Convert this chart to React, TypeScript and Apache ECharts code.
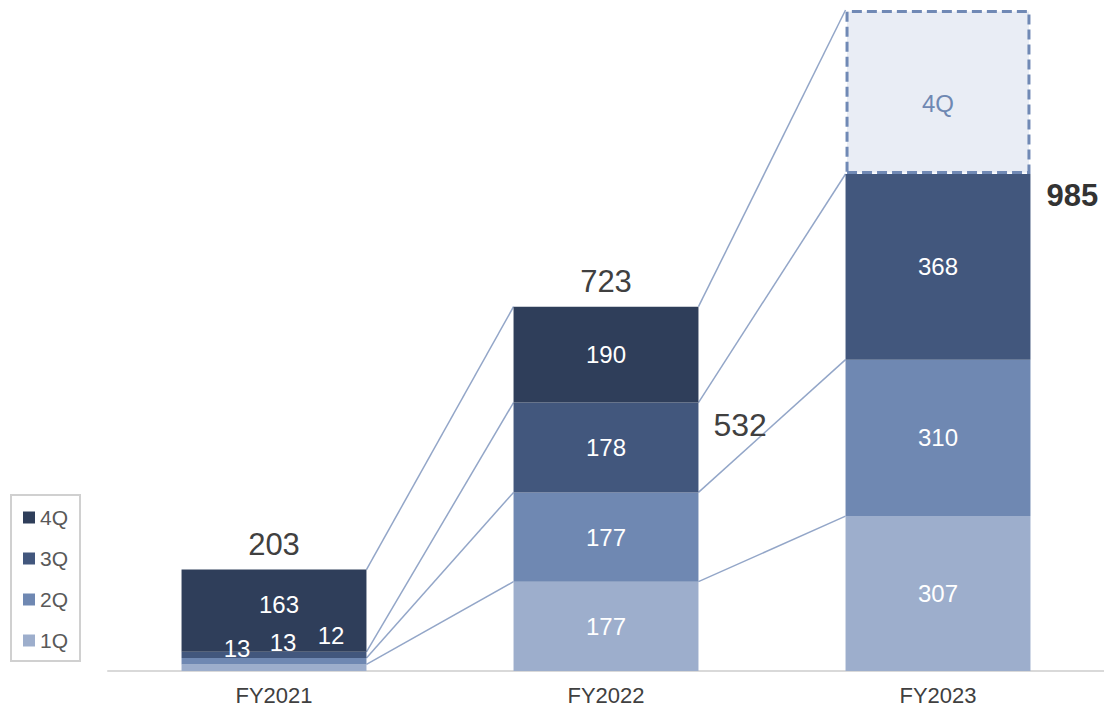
import React, { useEffect, useRef } from "react";
import * as echarts from "echarts";

const categories = ["FY2021", "FY2022", "FY2023"];
const q1 = [13, 177, 307];
const q2 = [13, 177, 310];
const q3 = [12, 178, 368];
const q4: (number | null)[] = [163, 190, null];
const q4Placeholder = 325; // FY2023 4Q not yet reported (dashed box)
const yearTotals: (number | null)[] = [203, 723, null];
const nineMonthTotals: (number | null)[] = [null, 532, 985];
const legendNames = ["4Q", "3Q", "2Q", "1Q"];

const COLORS = {
  q1: "#9DAECC",
  q2: "#6F88B2",
  q3: "#42577D",
  q4: "#2F3E5A",
  link: "#93A6C8",
  text: "#404040",
};
const FONT = "Liberation Sans";
const BAR_RATIO = 0.557;

const smallOffsets: Record<string, [number, number]> = {
  q1: [-37, -19],
  q2: [9, -19],
  q3: [57, -19],
};

function levels(j: number): number[] {
  const a = q1[j];
  const b = a + q2[j];
  const c = b + q3[j];
  const d = c + (q4[j] ?? q4Placeholder);
  return [a, b, c, d];
}

export default function App() {
  const ref = useRef<HTMLDivElement>(null);
  useEffect(() => {
    if (!ref.current) return;
    const chart = echarts.init(ref.current, null, { renderer: "svg" });

    const segData = (arr: number[], key: string) =>
      arr.map((v, j) => {
        if (j === 0) {
          return { value: v, label: { offset: smallOffsets[key] } };
        }
        return v;
      });

    const linkData: number[][] = [];
    for (let i = 0; i < categories.length - 1; i++) {
      for (let k = 0; k < 4; k++) linkData.push([i, k]);
    }

    const annData: number[][] = [];
    yearTotals.forEach((v, j) => {
      if (v != null) annData.push([j, 0]);
    });
    nineMonthTotals.forEach((v, j) => {
      if (v != null) annData.push([j, 1]);
    });

    const barLabel = {
      show: true,
      position: "inside",
      color: "#ffffff",
      fontSize: 24,
      fontFamily: FONT,
    };

    chart.setOption({
      animation: false,
      textStyle: { fontFamily: FONT },
      grid: { left: 108, right: 0, top: 10, bottom: 46 },
      legend: {
        data: legendNames,
        orient: "vertical",
        left: 11,
        top: 495,
        padding: [12, 12, 10, 12],
        itemGap: 20,
        itemWidth: 12,
        itemHeight: 12,
        itemTextGap: 5,
        icon: "rect",
        borderColor: "#D0D0D0",
        borderWidth: 2,
        textStyle: { fontSize: 21, color: "#595959", fontFamily: FONT },
      },
      xAxis: {
        type: "category",
        data: categories,
        axisTick: { show: false },
        axisLine: { lineStyle: { color: "#D9D9D9", width: 2 } },
        axisLabel: { fontSize: 22, color: COLORS.text, margin: 13, fontFamily: FONT },
      },
      yAxis: {
        type: "value",
        min: 0,
        max: 1310,
        show: false,
        splitLine: { show: false },
      },
      series: [
        {
          name: "1Q",
          type: "bar",
          stack: "t",
          barWidth: BAR_RATIO * 100 + "%",
          itemStyle: { color: COLORS.q1 },
          label: barLabel,
          data: segData(q1, "q1"),
          z: 3,
        },
        {
          name: "2Q",
          type: "bar",
          stack: "t",
          itemStyle: { color: COLORS.q2 },
          label: barLabel,
          data: segData(q2, "q2"),
          z: 3,
        },
        {
          name: "3Q",
          type: "bar",
          stack: "t",
          itemStyle: { color: COLORS.q3 },
          label: barLabel,
          data: segData(q3, "q3"),
          z: 3,
        },
        {
          name: "4Q",
          type: "bar",
          stack: "t",
          itemStyle: { color: COLORS.q4 },
          label: barLabel,
          z: 3,
          data: q4.map((v, j) => {
            if (v == null) {
              return {
                value: q4Placeholder,
                itemStyle: {
                  color: "#E9EDF5",
                  borderColor: "#7089B5",
                  borderWidth: 3,
                  borderType: [10, 5],
                },
                label: { formatter: "4Q", color: "#6F88B2", offset: [0, 12] },
              };
            }
            if (j === 0) return { value: v, label: { offset: [5, -6] } };
            return v;
          }),
        },
        {
          name: "links",
          type: "custom",
          z: 2,
          silent: true,
          data: linkData,
          renderItem: (params: any, api: any) => {
            const i = api.value(0);
            const k = api.value(1);
            const bw = api.size([1, 0])[0] * BAR_RATIO;
            const p0 = api.coord([i, levels(i)[k]]);
            const p1 = api.coord([i + 1, levels(i + 1)[k]]);
            return {
              type: "line",
              shape: { x1: p0[0] + bw / 2, y1: p0[1], x2: p1[0] - bw / 2, y2: p1[1] },
              style: { stroke: COLORS.link, lineWidth: 1.5 },
            };
          },
        },
        {
          name: "annotations",
          type: "custom",
          z: 4,
          silent: true,
          data: annData,
          renderItem: (params: any, api: any) => {
            const j = api.value(0);
            const kind = api.value(1);
            const bw = api.size([1, 0])[0] * BAR_RATIO;
            if (kind === 0) {
              const p = api.coord([j, levels(j)[3]]);
              return {
                type: "text",
                x: p[0],
                y: p[1] - 10,
                style: {
                  text: String(yearTotals[j]),
                  fill: COLORS.text,
                  fontSize: 31,
                  fontFamily: FONT,
                  align: "center",
                  verticalAlign: "bottom",
                },
              };
            }
            const p = api.coord([j, levels(j)[2]]);
            const bold = j === categories.length - 1;
            return {
              type: "text",
              x: p[0] + bw / 2 + (bold ? 16 : 15),
              y: p[1] + 22,
              style: {
                text: String(nineMonthTotals[j]),
                fill: bold ? "#333333" : COLORS.text,
                fontSize: bold ? 31 : 32,
                fontWeight: bold ? "bold" : "normal",
                fontFamily: FONT,
                align: "left",
                verticalAlign: "middle",
              },
            };
          },
        },
      ],
    });
    return () => chart.dispose();
  }, []);

  return (
    <div
      ref={ref}
      style={{ position: "fixed", left: 0, top: 0, width: 1104, height: 717, background: "#ffffff" }}
    />
  );
}
